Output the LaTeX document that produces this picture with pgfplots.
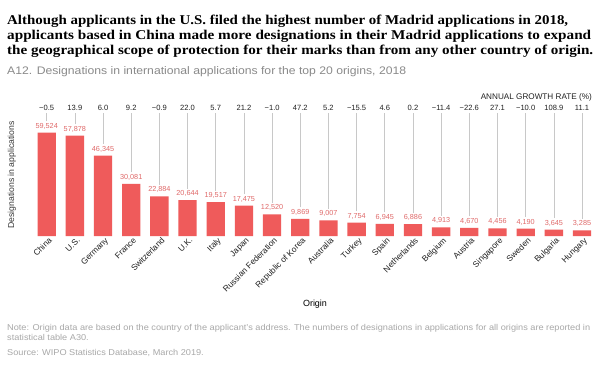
\documentclass[border=0pt]{standalone}
\usepackage{pgfplots}
\usepackage{pgfplotstable}
\usepackage{graphicx}
\usepackage{fontspec}
\pgfplotsset{compat=1.18}
\setmainfont{Liberation Sans}
\newfontfamily\titlefont{Liberation Serif}
\definecolor{barred}{HTML}{EF5B5B}
\definecolor{vallab}{HTML}{E06A6A}
\definecolor{growlab}{HTML}{222222}
\definecolor{linegray}{HTML}{C8C8C8}
\definecolor{subgray}{HTML}{8A8A8A}
\definecolor{notegray}{HTML}{A8A8A8}

\pgfplotstableread{
x v g
0 59524 −0.5
1 57878 13.9
2 46345 6.0
3 30081 9.2
4 22884 −0.9
5 20644 22.0
6 19517 5.7
7 17475 21.2
8 12520 −1.0
9 9869 47.2
10 9007 5.2
11 7754 −15.5
12 6945 4.6
13 6886 0.2
14 4913 −11.4
15 4670 −22.6
16 4456 27.1
17 4190 −10.0
18 3645 108.9
19 3285 11.1
}\datatable

\begin{document}
\begin{tikzpicture}[x=1bp,y=1bp]
\fill[white] (0,0) rectangle (604,370);
\useasboundingbox (0,0) rectangle (604,370);
% title
\node[anchor=base west, inner sep=0pt] at (7,346) {\resizebox{561bp}{\height}{\titlefont\bfseries\fontsize{13.5}{15}\selectfont Although applicants in the U.S. filed the highest number of Madrid applications in 2018,}};
\node[anchor=base west, inner sep=0pt] at (7,331) {\resizebox{584bp}{\height}{\titlefont\bfseries\fontsize{13.5}{15}\selectfont applicants based in China made more designations in their Madrid applications to expand}};
\node[anchor=base west, inner sep=0pt] at (7,316) {\resizebox{586bp}{\height}{\titlefont\bfseries\fontsize{13.5}{15}\selectfont the geographical scope of protection for their marks than from any other country of origin.}};
\node[anchor=base west, inner sep=0pt, text=subgray] at (7,296) {\resizebox{399bp}{\height}{\fontsize{11}{13}\selectfont A12. Designations in international applications for the top 20 origins, 2018}};
% growth rate header
\node[anchor=east, inner sep=0pt, text=growlab] at (592,273) {\fontsize{8.2}{10}\selectfont ANNUAL GROWTH RATE (\%)};
% y label
\node[rotate=90, inner sep=0pt, text=growlab!90] at (12,195) {\fontsize{8.7}{10}\selectfont Designations in applications};
% x label
\node[inner sep=0pt, text=black] at (315,65.5) {\fontsize{9}{11}\selectfont Origin};
% notes
\node[anchor=base west, inner sep=0pt, text=notegray] at (7,39.5) {\resizebox{583bp}{\height}{\fontsize{8.5}{10}\selectfont Note: Origin data are based on the country of the applicant's address. The numbers of designations in applications for all origins are reported in}};
\node[anchor=base west, inner sep=0pt, text=notegray] at (7,29.5) {\scalebox{1.083}[1]{\fontsize{8.5}{10}\selectfont statistical table A30.}};
\node[anchor=base west, inner sep=0pt, text=notegray] at (7,14.5) {\scalebox{1.083}[1]{\fontsize{8.5}{10}\selectfont Source: WIPO Statistics Database, March 2019.}};

\begin{axis}[
  at={(32.6bp,134bp)}, anchor=south west,
  scale only axis, width=563.5bp, height=146bp,
  xmin=-0.5, xmax=19.5, ymin=0, ymax=84125,
  axis line style={draw=none},
  ytick=\empty,
  xtick={0,...,19},
  xticklabels={China,U.S.,Germany,France,Switzerland,U.K.,Italy,Japan,Russian Federation,Republic of Korea,Australia,Turkey,Spain,Netherlands,Belgium,Austria,Singapore,Sweden,Bulgaria,Hungary},
  major tick length=0pt,
  x tick label style={rotate=45, anchor=north east, font=\fontsize{8.4}{10}\selectfont, inner sep=1pt, text=growlab, xshift=1.5bp, yshift=-0.5bp},
  clip=false,
]
\addplot[ybar, bar width=18.3bp, bar shift=0pt, fill=barred, draw=none,
  nodes near coords, point meta=y,
  every node near coord/.append style={anchor=base, inner sep=0pt, yshift=4.5bp, text=vallab, font=\fontsize{7.3}{9}\selectfont,
    /pgf/number format/.cd, fixed, precision=0, 1000 sep={,}, assume math mode=true}]
  table[x=x, y=v] {\datatable};
\addplot[draw=none, mark=none, forget plot,
  error bars/.cd, y dir=plus, y explicit, error mark=none,
  error bar style={draw=linegray, line width=0.6bp}]
  table[x=x, y expr=\thisrow{v}+6626, y error expr=70873-\thisrow{v}-6626] {\datatable};
\addplot[draw=none, mark=none, forget plot,
  nodes near coords, point meta=explicit symbolic,
  every node near coord/.append style={anchor=center, inner sep=0pt, text=growlab, font=\fontsize{7.6}{9}\selectfont}]
  table[x=x, y expr=73754, meta=g] {\datatable};
\end{axis}
\end{tikzpicture}
\end{document}
